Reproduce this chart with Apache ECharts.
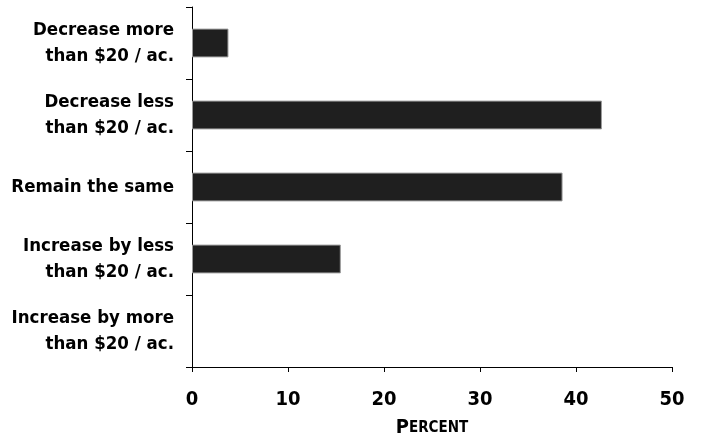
<!DOCTYPE html>
<html><head><meta charset="utf-8">
<script src="https://cdn.jsdelivr.net/npm/echarts@6/dist/echarts.min.js"></script>
<style>html,body{margin:0;padding:0;background:#fff}#c{width:706px;height:436px}</style>
</head><body><div id="c"></div>
<script>
const categories = ["Decrease more\nthan $20 / ac.", "Decrease less\nthan $20 / ac.", "Remain the same", "Increase by less\nthan $20 / ac.", "Increase by more\nthan $20 / ac."];
const percentValues = [3.8, 42.7, 38.6, 15.5, 0];
const xTicks = [0, 10, 20, 30, 40, 50];

const FONT = "'Liberation Sans Narrow', 'DejaVu Sans Condensed', sans-serif";
const chart = echarts.init(document.getElementById('c'), null, {renderer: 'canvas'});
chart.setOption({
  animation: false,
  backgroundColor: '#fff',
  grid: {left: 192, right: 34, top: 7, bottom: 69, containLabel: false, outerBoundsMode: 'none'},
  xAxis: {
    type: 'value', min: xTicks[0], max: xTicks[xTicks.length - 1], interval: 10,
    axisLine: {show: true, lineStyle: {color: '#000', width: 1}},
    axisTick: {show: true, length: 5, lineStyle: {color: '#000'}},
    splitLine: {show: false},
    axisLabel: {color: '#000', fontFamily: FONT, fontWeight: 'bold', fontSize: 20, margin: 23},
    name: '{a|P}{b|ERCENT}', nameLocation: 'middle', nameGap: 51,
    nameTextStyle: {rich: {
      a: {fontFamily: FONT, fontWeight: 'bold', fontSize: 20, color: '#000'},
      b: {fontFamily: FONT, fontWeight: 'bold', fontSize: 15, color: '#000'}
    }}
  },
  yAxis: {
    type: 'category', data: categories, inverse: true,
    axisLine: {show: true, lineStyle: {color: '#000', width: 1}},
    axisTick: {show: true, length: 6, lineStyle: {color: '#000'}},
    axisLabel: {color: '#000', fontFamily: FONT, fontWeight: 'bold', fontSize: 18.5, lineHeight: 26, margin: 18, align: 'right'}
  },
  series: [{
    type: 'bar',
    data: percentValues.map(v => v === 0 ? {value: v, itemStyle: {borderWidth: 0}} : v),
    barWidth: '40%',
    itemStyle: {color: '#1f1f1f', borderColor: '#9a9a9a', borderWidth: 1}
  }]
});
</script></body></html>
